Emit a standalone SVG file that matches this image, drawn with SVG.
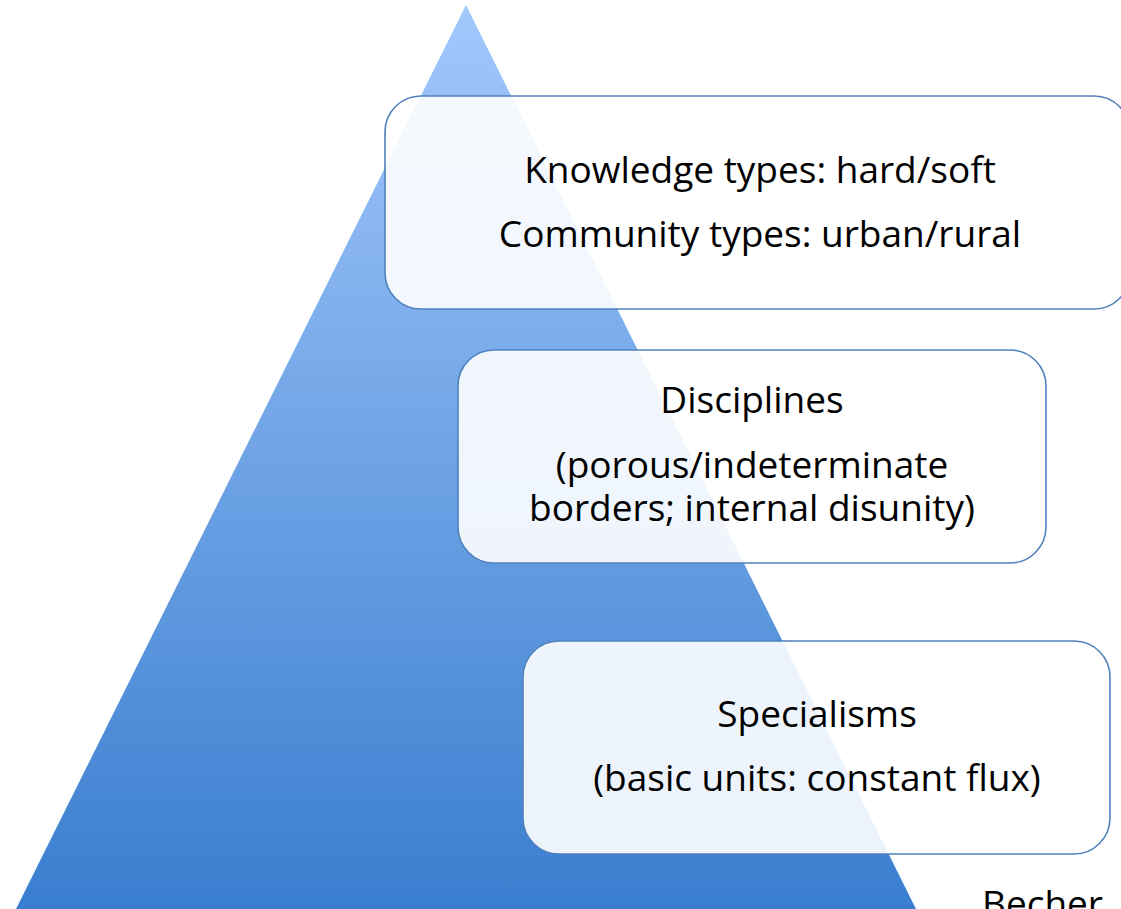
<svg xmlns="http://www.w3.org/2000/svg" width="1121" height="909" viewBox="0 0 1121 909">
<defs>
<linearGradient id="tri" x1="0" y1="0" x2="0" y2="1">
<stop offset="0" stop-color="#a3c8fc"/>
<stop offset="1" stop-color="#3a7ecf"/>
</linearGradient>
<style>
.box{fill:#ffffff;fill-opacity:0.9;stroke:#4f81bd;stroke-width:1.6}
.t{font-family:"Open Sans","Liberation Sans",Arial,sans-serif;font-size:37px;fill:#000;text-anchor:middle}
</style>
</defs>
<rect width="1121" height="909" fill="#ffffff"/>
<g id="pyramid">
<polygon points="466,5 916,909 16,909" fill="url(#tri)"/>
</g>
<g id="connectors"></g>
<g id="node-top">
<rect class="box" x="385" y="96" width="745" height="213" rx="36" ry="36"/>
<text class="t" x="760" y="183">Knowledge types: hard/soft</text>
<text class="t" x="760" y="247">Community types: urban/rural</text>
</g>
<g id="node-disciplines">
<rect class="box" x="458" y="350" width="588" height="213" rx="36" ry="36"/>
<text class="t" x="752" y="413">Disciplines</text>
<text class="t" x="752" y="478">(porous/indeterminate</text>
<text class="t" x="752" y="521">borders; internal disunity)</text>
</g>
<g id="node-specialisms">
<rect class="box" x="523" y="641" width="587" height="213" rx="36" ry="36"/>
<text class="t" x="817" y="727">Specialisms</text>
<text class="t" x="817" y="791">(basic units: constant flux)</text>
</g>
<g id="caption">
<text class="t" x="982" y="917" style="text-anchor:start">Becher</text>
</g>
</svg>
